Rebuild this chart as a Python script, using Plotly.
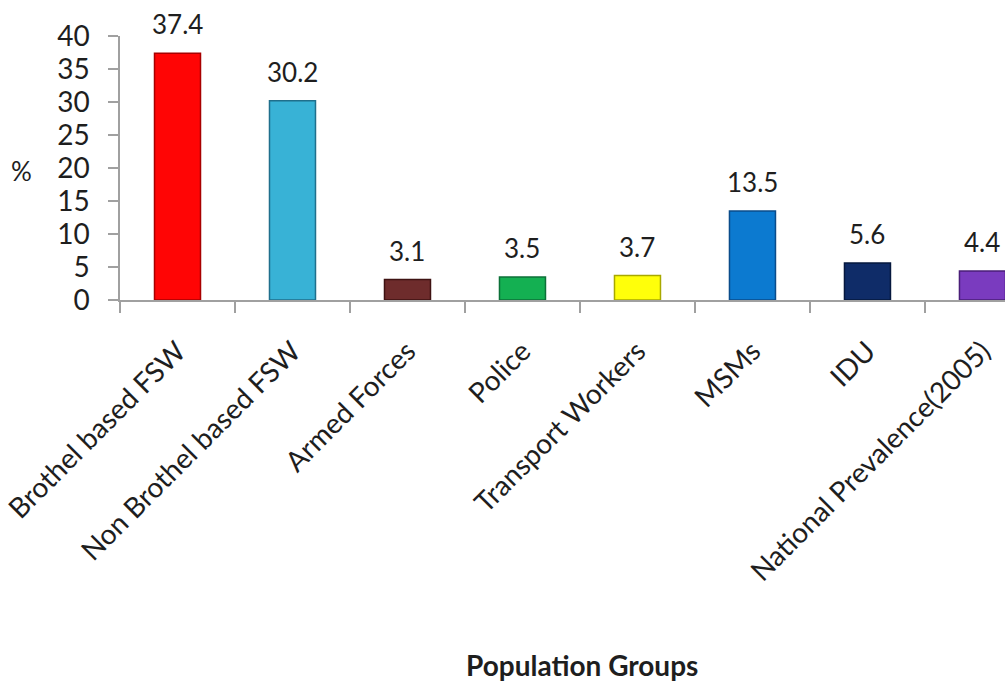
import plotly.graph_objects as go

# Prevalence by population group (%)
groups = [
    "Brothel based FSW",
    "Non Brothel based FSW",
    "Armed Forces",
    "Police",
    "Transport Workers",
    "MSMs",
    "IDU",
    "National Prevalence(2005)",
]
prevalence = [37.4, 30.2, 3.1, 3.5, 3.7, 13.5, 5.6, 4.4]
value_labels = ["37.4", "30.2", "3.1", "3.5", "3.7", "13.5", "5.6", "4.4"]

fill_colors = ["#FF0505", "#38B2D6", "#6E2C2C", "#14B052",
               "#FFFF0A", "#0C7AD0", "#0F2C68", "#7A3BBF"]
edge_colors = ["#A80000", "#1F6F8C", "#3E1212", "#0C7038",
               "#A8A800", "#0A4C8A", "#06183E", "#4A1E78"]

FONT = "Lato, 'Open Sans', sans-serif"
TEXT_COLOR = "#1E1E1E"

fig = go.Figure()
fig.add_trace(go.Bar(
    x=groups,
    y=prevalence,
    width=0.4,
    marker=dict(color=fill_colors, line=dict(color=edge_colors, width=1.5)),
    hoverinfo="x+y",
))

# value labels sitting above each bar
for g, v, t in zip(groups, prevalence, value_labels):
    fig.add_annotation(x=g, y=v, text=t, showarrow=False,
                       yanchor="bottom", yshift=11,
                       font=dict(family=FONT, size=26, color=TEXT_COLOR))

# y-axis title, written horizontally
fig.add_annotation(xref="paper", yref="paper", x=-0.111, y=0.49,
                   xanchor="center", yanchor="middle",
                   text="%", showarrow=False,
                   font=dict(family=FONT, size=26, color=TEXT_COLOR))

# x-axis title
fig.add_annotation(xref="paper", yref="paper", x=0.5223, y=-1.383,
                   xanchor="center", yanchor="middle",
                   text="<b>Population Groups</b>", showarrow=False,
                   font=dict(family=FONT, size=28, color=TEXT_COLOR))

fig.update_layout(
    width=1005, height=682,
    margin=dict(l=120, r=0, t=36, b=382),
    plot_bgcolor="white", paper_bgcolor="white",
    showlegend=False,
    bargap=0.6,
    font=dict(family=FONT, size=28, color=TEXT_COLOR),
)
fig.update_xaxes(
    type="category",
    range=[-0.5, 7.196],
    showline=True, linecolor="#A0A0A0", linewidth=1.5,
    ticks="outside", tickson="boundaries", ticklen=11, tickcolor="#A0A0A0",
    tickwidth=1.5,
    tickangle=-45,
    ticklabelstandoff=22,
    tickfont=dict(family=FONT, size=28, color=TEXT_COLOR),
    showgrid=False,
)
fig.update_yaxes(
    range=[0, 40], dtick=5,
    showline=True, linecolor="#A0A0A0", linewidth=1.5,
    ticks="outside", ticklen=10, tickcolor="#A0A0A0", tickwidth=1.5,
    ticklabelstandoff=13,
    tickfont=dict(family=FONT, size=28, color=TEXT_COLOR),
    showgrid=False, zeroline=False,
)

fig.write_html("out.html")
